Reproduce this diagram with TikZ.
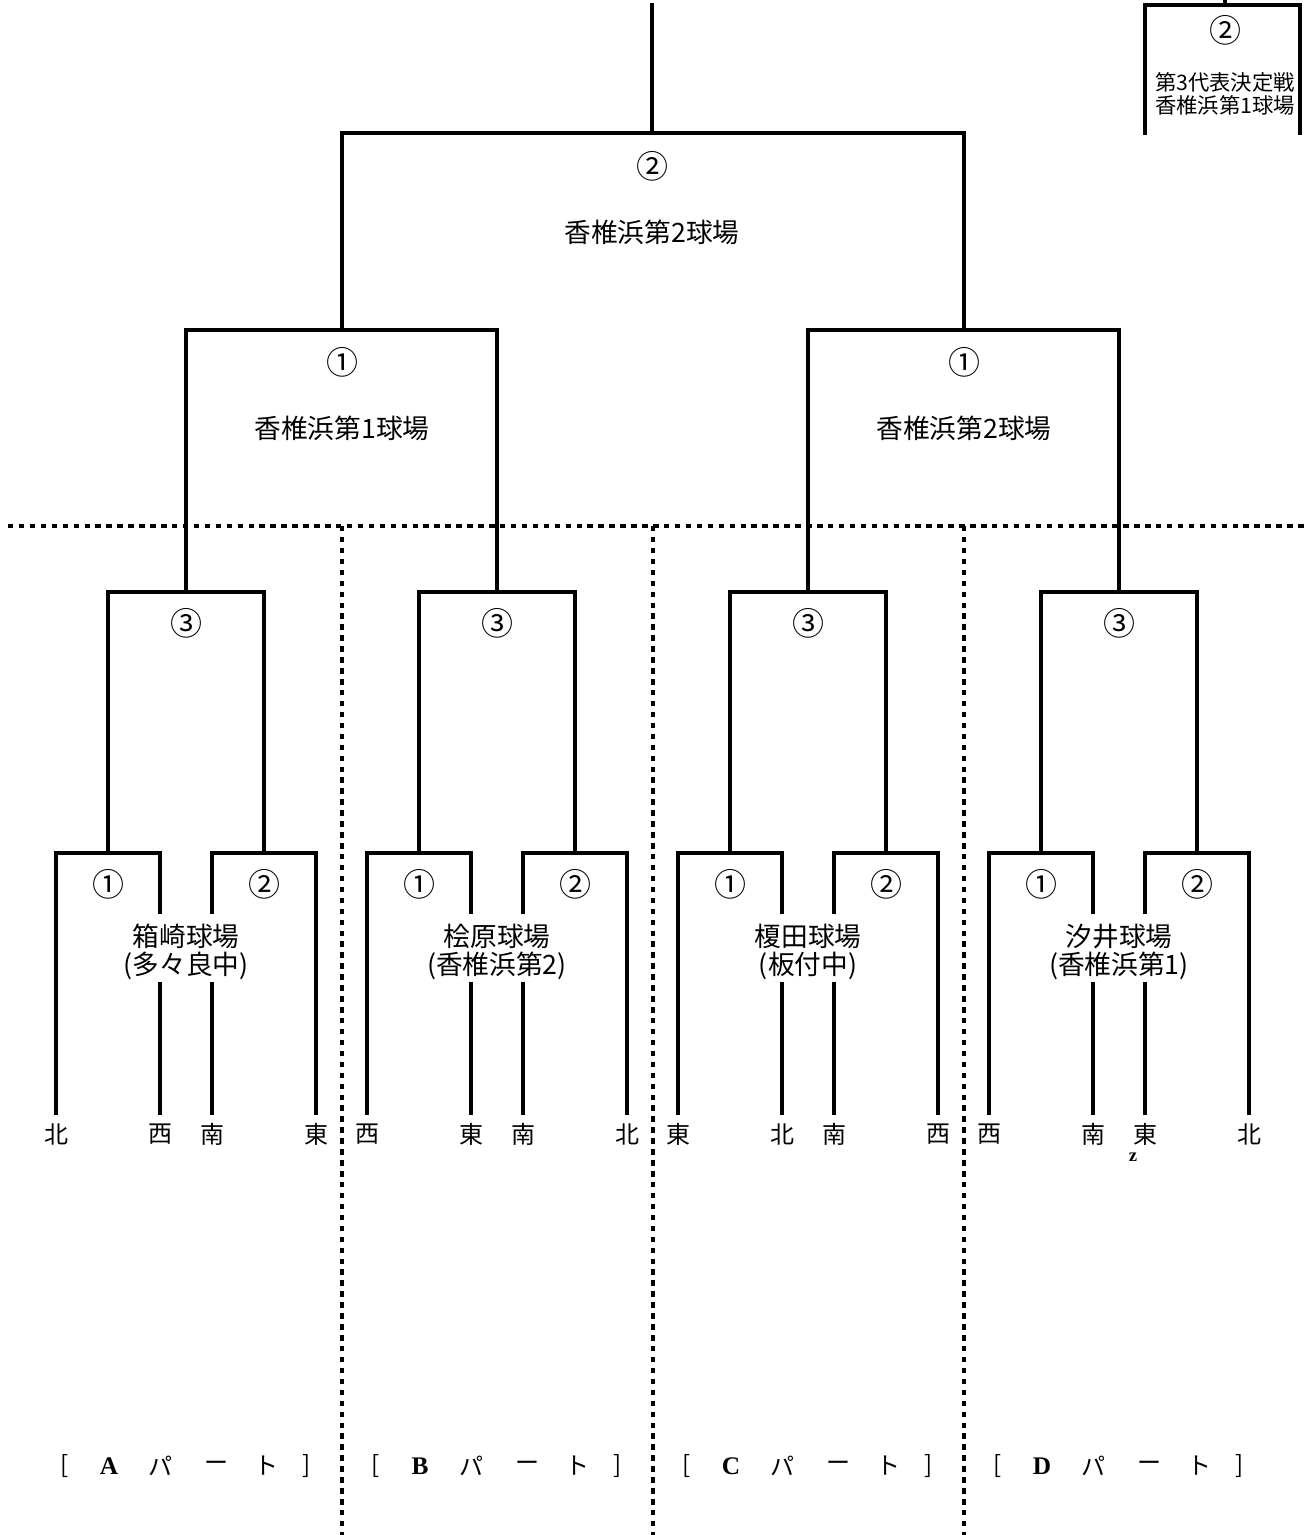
\documentclass[tikz,border=0pt]{standalone}
\usepackage{fontspec}
\setmainfont{Noto Sans CJK JP}
\newfontfamily\serifl{Liberation Serif}
\begin{document}
\begin{tikzpicture}[x=0.75pt,y=-0.75pt,
  br/.style={line width=2.4pt,line cap=rect},
  sep/.style={line width=2.6pt,dash pattern=on 4.1pt off 4.1pt},
  num/.style={font=\fontsize{24}{26}\selectfont,inner sep=0pt},
  venue/.style={font=\fontsize{20}{22}\selectfont,inner sep=0pt},
  team/.style={font=\fontsize{18}{20}\selectfont,inner sep=0pt},
  small/.style={font=\fontsize{16}{18}\selectfont,inner sep=0pt},
  part/.style={font=\fontsize{18}{20}\selectfont,inner sep=0pt}]
\useasboundingbox (0,0) rectangle (1305,1535);
% separators
\coordinate (hl) at (8,526); \coordinate (hr) at (1305,526);
\draw[sep] (hl) -- (hr);
\foreach \x in {342,653,964}{\draw[sep] (\x,526) -- (\x,1535);}
% final
\coordinate (top) at (652,5);
\coordinate (fL) at (342,133); \coordinate (fR) at (964,133); \coordinate (fM) at (652,133);
\draw[br] (top) -- (fM);
\draw[br] (fL) -- (fR);
\coordinate (sL) at (342,330); \coordinate (sR) at (964,330);
\draw[br] (fL) -- (sL); \draw[br] (fR) -- (sR);
\node[num] (fn) at (652,166) {②};
\node[venue] (fv) at (652,232) {香椎浜第2球場};
% semifinals
\foreach \c/\n/\v in {342/①/香椎浜第1球場, 964/①/香椎浜第2球場}{
  \coordinate (a) at (\c-156,330); \coordinate (b) at (\c+155,330);
  \coordinate (a2) at (\c-156,592); \coordinate (b2) at (\c+155,592);
  \draw[br] (a) -- (b); \draw[br] (a) -- (a2); \draw[br] (b) -- (b2);
  \node[num] at (\c,362) {\n};
  \node[venue] at (\c,428) {\v};
}
% quarterfinals and first round
\foreach \c/\va/\vb/\la/\lb/\lc/\ld in {186/箱崎球場/(多々良中)/北/西/南/東, 497/桧原球場/(香椎浜第2)/西/東/南/北, 808/榎田球場/(板付中)/東/北/南/西, 1119/汐井球場/(香椎浜第1)/西/南/東/北}{
  \coordinate (qa) at (\c-78,592); \coordinate (qb) at (\c+78,592);
  \coordinate (qa2) at (\c-78,853); \coordinate (qb2) at (\c+78,853);
  \draw[br] (qa) -- (qb); \draw[br] (qa) -- (qa2); \draw[br] (qb) -- (qb2);
  \node[num] at (\c,623) {③};
  % left match
  \coordinate (l1) at (\c-130,853); \coordinate (l2) at (\c-26,853);
  \draw[br] (l1) -- (l2);
  \draw[br] (l1) -- (\c-130,1113);
  \draw[br] (l2) -- (\c-26,912);
  \draw[br] (\c-26,984) -- (\c-26,1113);
  % right match
  \coordinate (r1) at (\c+26,853); \coordinate (r2) at (\c+130,853);
  \draw[br] (r1) -- (r2);
  \draw[br] (r2) -- (\c+130,1113);
  \draw[br] (r1) -- (\c+26,912);
  \draw[br] (\c+26,984) -- (\c+26,1113);
  \node[num] at (\c-78,884) {①};
  \node[num] at (\c+78,884) {②};
  \node[venue] at (\c,936) {\va};
  \node[venue] at (\c,966) {\vb};
  \node[team] at (\c-130,1134) {\la};
  \node[team] at (\c-26,1134) {\lb};
  \node[team] at (\c+26,1134) {\lc};
  \node[team] at (\c+130,1134) {\ld};
}
\node[font=\serifl\bfseries\fontsize{14}{14}\selectfont,inner sep=0pt] (zz) at (1133,1157) {z};
% part labels
\foreach \c/\p in {186/A,497/B,808/C,1119/D}{
  \node[part] at (\c-121,1466) {[};
  \node[part,font=\serifl\bfseries\fontsize{19}{20}\selectfont] at (\c-77,1466) {\p};
  \node[part] at (\c-26,1466) {パ};
  \node[part] at (\c+30,1466) {ー};
  \node[part] at (\c+80,1466) {ト};
  \node[part] at (\c+121,1466) {]};
}
% third place box
\coordinate (t0) at (1225,0); \coordinate (t1) at (1225,5);
\coordinate (tl) at (1145,5); \coordinate (tr) at (1300,5);
\draw[br] (t0) -- (t1);
\draw[br] (tl) -- (tr);
\draw[br] (tl) -- (1145,133);
\draw[br] (tr) -- (1300,133);
\node[num] at (1225,30) {②};
\node[small] at (1225,82) {第3代表決定戦};
\node[small] at (1225,105) {香椎浜第1球場};
\end{tikzpicture}
\end{document}
